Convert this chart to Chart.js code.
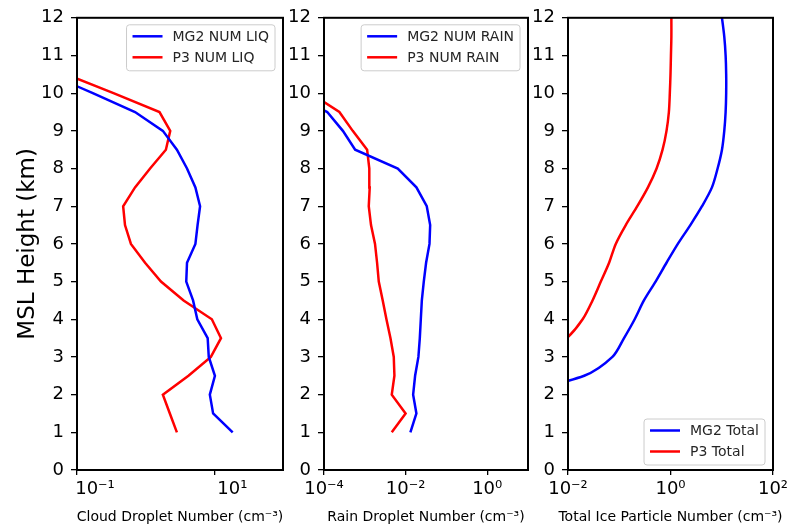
<!DOCTYPE html>
<html>
<head>
<meta charset="utf-8">
<script src="https://cdn.jsdelivr.net/npm/chart.js@4/dist/chart.umd.min.js"></script>
<style>
  body { margin: 0; background: #fff; }
  #wrap { position: relative; width: 790px; height: 526px; }
  canvas { position: absolute; top: 0; }
</style>
</head>
<body>
<div id="wrap">
  <canvas id="cloud-liq" width="300" height="526" style="left:0px"></canvas>
  <canvas id="rain-num" width="262" height="526" style="left:283px"></canvas>
  <canvas id="ice-total" width="260" height="526" style="left:530px"></canvas>
</div>
<script>
// heights (km) of each profile level
var liqHeights = [1, 1.5, 2, 2.5, 3, 3.5, 4, 4.5, 5, 5.5, 6, 6.5, 7, 7.5, 8, 8.5, 9, 9.5, 10, 10.5];
var mg2Liq = [18.5, 9.6, 8.6, 10.2, 8.3, 8.0, 5.65, 4.9, 3.9, 4.0, 5.3, 5.7, 6.2, 5.3, 4.0, 2.85, 1.78, 0.70, 0.17, 0.04];
var p3Liq = [2.85, 2.25, 1.78, 4.2, 8.9, 12.5, 9.2, 3.57, 1.67, 0.98, 0.61, 0.50, 0.47, 0.70, 1.16, 1.97, 2.28, 1.59, 0.34, 0.07];

var rainHeights = [1, 1.5, 2, 2.5, 3, 3.5, 4, 4.5, 5, 5.5, 6, 6.5, 7, 7.5, 8, 8.5, 9, 9.5, 10];
var mg2Rain = [0.0131, 0.0184, 0.0153, 0.0171, 0.0206, 0.0223, 0.0236, 0.025, 0.0279, 0.0318, 0.0385, 0.040, 0.033, 0.0184, 0.00643, 0.00058, 0.00029, 0.00012, 0.000013];
var p3Rain = [0.00458, 0.0100, 0.00458, 0.00532, 0.00513, 0.00425, 0.00339, 0.00275, 0.0022, 0.0020, 0.00178, 0.00142, 0.00125, 0.00132, 0.00129, 0.00114, 0.000506, 0.000238, 0.000046];

var mg2IceHeights = [2, 2.5, 3, 3.5, 4, 4.5, 5, 5.5, 6, 6.5, 7, 7.5, 8, 8.5, 9, 9.5, 10, 10.5, 11, 11.5, 12];
var mg2Ice = [0.0008, 0.0207, 0.0736, 0.124, 0.200, 0.303, 0.512, 0.836, 1.39, 2.44, 4.12, 6.44, 8.3, 10.1, 11.2, 11.9, 12.2, 12.2, 11.9, 11.2, 10.1];
var p3IceHeights = [3, 3.5, 4, 4.5, 5, 5.5, 6, 6.5, 7, 7.5, 8, 8.5, 9, 9.5, 10, 10.5, 11, 11.5, 12];
var p3Ice = [0.003, 0.0095, 0.0193, 0.0301, 0.0437, 0.0634, 0.0855, 0.134, 0.225, 0.363, 0.535, 0.70, 0.836, 0.93, 0.97, 1.0, 1.02, 1.04, 1.04];

var liqTicks = [0.1, 10];
var rainTicks = [1e-4, 1e-2, 1];
var iceTicks = [1e-2, 1, 100];

var FONT = '"DejaVu Sans", sans-serif';
var SUP = { '-': '\u207B', '0': '\u2070', '1': '\u00B9', '2': '\u00B2', '3': '\u00B3', '4': '\u2074' };

function powerLabel(v) {
    var e = String(Math.round(Math.log10(v)));
    return '10' + e.split('').map(function(c) { return SUP[c]; }).join('');
}

function profile(xs, ys) {
    return xs.map(function(x, i) { return { x: x, y: ys[i] }; });
}

// box around the axes, x title (not squeezed to the axis width) and a matplotlib style legend
var frameAndLegend = {
    id: 'frameAndLegend',
    afterDatasetsDraw: function(chart, args, opts) {
        var ctx = chart.ctx, a = chart.chartArea;
        ctx.save();
        ctx.strokeStyle = '#000';
        ctx.lineWidth = 2;
        ctx.strokeRect(a.left, a.top, a.right - a.left, a.bottom - a.top);

        ctx.font = '14px ' + FONT;
        ctx.fillStyle = '#000';
        ctx.textAlign = 'center';
        ctx.textBaseline = 'middle';
        ctx.fillText(opts.xTitle, (a.left + a.right) / 2, chart.height - 9);

        ctx.textAlign = 'left';
        var sets = chart.data.datasets;
        var textW = 0;
        sets.forEach(function(d) { textW = Math.max(textW, ctx.measureText(d.label).width); });
        var w = 52 + textW, h = 46;
        var x = a.right - 8 - w;
        var y = opts.corner === 'lower' ? a.bottom - 5 - h : a.top + 7;
        ctx.beginPath();
        ctx.roundRect(x, y, w, h, 3);
        ctx.fillStyle = 'rgba(255,255,255,0.8)';
        ctx.fill();
        ctx.strokeStyle = '#cccccc';
        ctx.lineWidth = 1;
        ctx.stroke();
        ctx.fillStyle = '#262626';
        sets.forEach(function(d, i) {
            var ly = y + 11.5 + i * 21;
            ctx.beginPath();
            ctx.moveTo(x + 6, ly);
            ctx.lineTo(x + 36, ly);
            ctx.strokeStyle = d.borderColor;
            ctx.lineWidth = 2.5;
            ctx.stroke();
            ctx.fillText(d.label, x + 46, ly + 1);
        });
        ctx.restore();
    }
};

function makePanel(id, p) {
    return new Chart(document.getElementById(id), {
        type: 'line',
        plugins: [frameAndLegend],
        data: {
            datasets: [
                { label: p.labels[0], data: p.blue, borderColor: '#0000ff', borderWidth: 2.5, pointRadius: 0, tension: p.tension || 0, fill: false },
                { label: p.labels[1], data: p.red, borderColor: '#ff0000', borderWidth: 2.5, pointRadius: 0, tension: p.tension || 0, fill: false }
            ]
        },
        options: {
            responsive: false,
            animation: false,
            layout: { padding: { top: 15, right: 17, bottom: 0, left: 0 } },
            plugins: {
                legend: { display: false },
                tooltip: { enabled: false },
                frameAndLegend: { corner: p.corner, xTitle: p.xTitle }
            },
            scales: {
                x: {
                    type: 'logarithmic',
                    min: p.min,
                    max: p.max,
                    border: { display: false },
                    grid: { drawOnChartArea: false, drawTicks: true, tickLength: 5, color: '#000', lineWidth: 1.3 },
                    afterBuildTicks: function(axis) {
                        axis.ticks = p.ticks.map(function(v) { return { value: v }; });
                    },
                    afterFit: function(axis) {
                        axis.height = 56;
                        axis.paddingLeft = 0;
                        axis.paddingRight = 0;
                    },
                    ticks: {
                        autoSkip: false,
                        maxRotation: 0,
                        padding: 4,
                        labelOffset: p.labelOffset || 0,
                        color: '#000',
                        font: { family: FONT, size: 18 },
                        callback: function(v) { return powerLabel(v); }
                    }
                },
                y: {
                    type: 'linear',
                    min: 0,
                    max: 12,
                    border: { display: false },
                    grid: { drawOnChartArea: false, drawTicks: true, tickLength: 6, color: '#000', lineWidth: 1.3 },
                    afterFit: function(axis) { axis.width = p.yWidth; },
                    ticks: {
                        stepSize: 1,
                        padding: 7,
                        color: '#000',
                        font: { family: FONT, size: 18 }
                    },
                    title: {
                        display: !!p.yTitle,
                        text: p.yTitle,
                        color: '#000',
                        font: { family: FONT, size: 23 },
                        padding: { top: 14, bottom: 0 }
                    }
                }
            }
        }
    });
}

makePanel('cloud-liq', {
    labels: ['MG2 NUM LIQ', 'P3 NUM LIQ'],
    blue: profile(mg2Liq, liqHeights),
    red: profile(p3Liq, liqHeights),
    min: 0.1, max: 100, ticks: liqTicks, labelOffset: 18,
    xTitle: 'Cloud Droplet Number (cm\u207B\u00B3)',
    yTitle: 'MSL Height (km)',
    yWidth: 77,
    corner: 'upper'
});

makePanel('rain-num', {
    labels: ['MG2 NUM RAIN', 'P3 NUM RAIN'],
    blue: profile(mg2Rain, rainHeights),
    red: profile(p3Rain, rainHeights),
    min: 1e-4, max: 10, ticks: rainTicks,
    xTitle: 'Rain Droplet Number (cm\u207B\u00B3)',
    yWidth: 41,
    corner: 'upper'
});

makePanel('ice-total', {
    labels: ['MG2 Total', 'P3 Total'],
    blue: profile(mg2Ice, mg2IceHeights),
    red: profile(p3Ice, p3IceHeights),
    min: 1e-2, max: 100, ticks: iceTicks, tension: 0.3,
    xTitle: 'Total Ice Particle Number (cm\u207B\u00B3)',
    yWidth: 38,
    corner: 'lower'
});
</script>
</body>
</html>
